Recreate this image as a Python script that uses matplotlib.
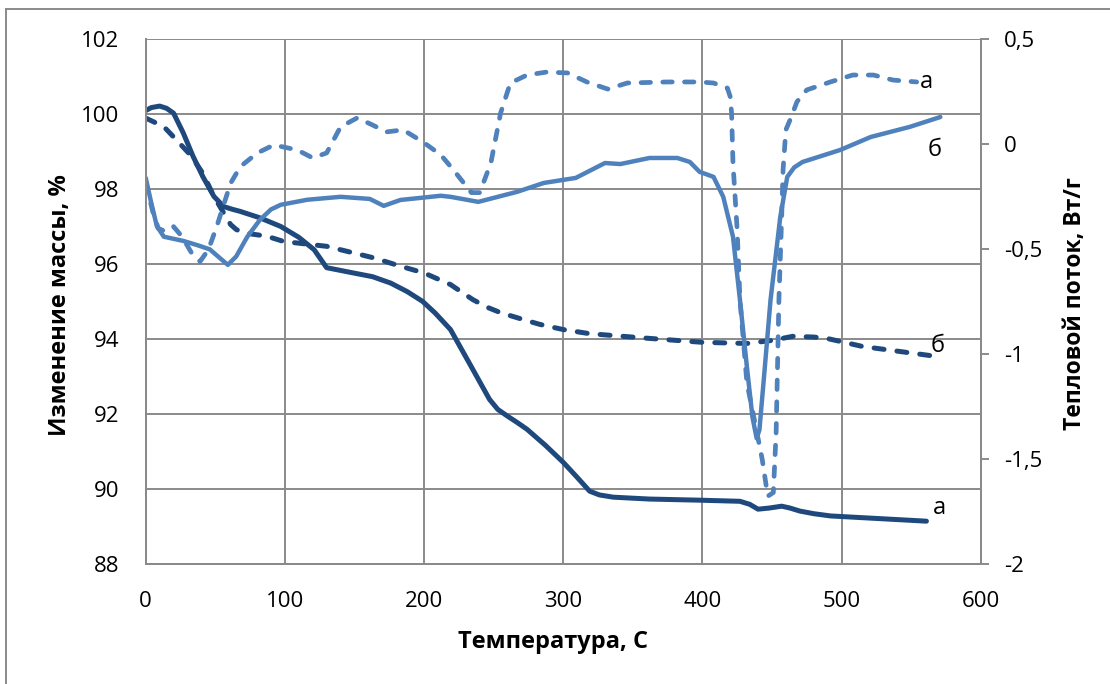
import matplotlib.pyplot as plt
from matplotlib.lines import Line2D

plt.rcParams['font.family'] = ['Open Sans', 'DejaVu Sans']

# масса, образец а (сплошная тёмная)
t_mass_a = [0, 4, 10, 15, 20, 27, 34, 41, 49, 56, 62, 68, 82, 97, 110, 121,
            130, 145, 163, 176, 188, 199, 208, 219, 235, 247, 253, 260, 267,
            274, 287, 300, 310, 319, 326, 336, 362, 398, 427, 434, 440, 448,
            457, 463, 470, 480, 492, 561]
mass_a = [100.1, 100.18, 100.22, 100.16, 100.03, 99.5, 98.88, 98.34, 97.81,
          97.54, 97.47, 97.41, 97.24, 97.01, 96.72, 96.39, 95.91, 95.8, 95.67,
          95.5, 95.27, 95.01, 94.7, 94.26, 93.2, 92.4, 92.13, 91.95, 91.78,
          91.6, 91.18, 90.72, 90.32, 89.95, 89.85, 89.79, 89.74, 89.71, 89.68,
          89.6, 89.47, 89.5, 89.55, 89.5, 89.42, 89.35, 89.29, 89.15]

# масса, образец б (штриховая тёмная)
t_mass_b = [0, 13, 22, 32, 41, 49, 56, 61, 65, 70, 87, 99, 130, 164, 183, 200,
            219, 235, 245, 255, 271, 283, 300, 319, 360, 400, 432, 450, 465,
            480, 490, 515, 567]
mass_b = [99.9, 99.67, 99.32, 98.92, 98.43, 97.81, 97.37, 97.06, 96.93, 96.84,
          96.75, 96.61, 96.48, 96.17, 95.95, 95.77, 95.46, 95.06, 94.86, 94.71,
          94.53, 94.4, 94.26, 94.15, 94.03, 93.92, 93.89, 93.97, 94.08, 94.06,
          94.02, 93.81, 93.55]

# тепловой поток, образец б (сплошная светлая)
t_heat_b = [0, 4, 8, 13, 20, 27, 37, 46, 53, 59, 65, 73, 82, 90, 97, 116, 140,
            161, 171, 183, 212, 219, 239, 267, 286, 309, 330, 341, 362, 382,
            391, 398, 408, 415, 422, 427, 432, 436, 439, 441, 444, 449, 456,
            461, 466, 472, 499, 521, 549, 571]
heat_b = [-0.16, -0.28, -0.39, -0.44, -0.45, -0.46, -0.48, -0.5, -0.54, -0.574,
          -0.534, -0.44, -0.36, -0.31, -0.288, -0.264, -0.25, -0.26, -0.293,
          -0.265, -0.245, -0.25, -0.274, -0.226, -0.184, -0.16, -0.089,
          -0.094, -0.065, -0.065, -0.084, -0.131, -0.155, -0.25, -0.44, -0.74,
          -1.06, -1.3, -1.4, -1.36, -1.13, -0.74, -0.345, -0.155, -0.11,
          -0.084, -0.027, 0.035, 0.083, 0.13]

# тепловой поток, образец а (штриховая светлая)
t_heat_a = [0, 5, 9, 14, 20, 26, 33, 39, 45, 51, 56, 61, 68, 80, 92, 109, 120,
            130, 140, 152, 163, 173, 185, 199, 212, 221, 234, 240, 248, 255,
            262, 274, 288, 303, 317, 332, 346, 375, 398, 408, 418, 420, 421,
            422, 425, 427, 432, 437, 443, 447, 451, 453, 454, 455, 457, 458,
            460, 463, 468, 475, 492, 508, 523, 537, 554]
heat_a = [-0.18, -0.32, -0.4, -0.415, -0.392, -0.439, -0.518, -0.558, -0.502,
          -0.392, -0.288, -0.185, -0.106, -0.042, -0.003, -0.027, -0.065,
          -0.041, 0.083, 0.126, 0.092, 0.059, 0.069, 0.012, -0.05, -0.121,
          -0.23, -0.23, -0.089, 0.149, 0.292, 0.33, 0.344, 0.34, 0.297, 0.263,
          0.292, 0.297, 0.297, 0.292, 0.268, 0.227, 0.148, -0.09, -0.407,
          -0.74, -1.136, -1.3, -1.5, -1.676, -1.658, -1.373, -1.06, -0.74,
          -0.344, -0.12, 0.069, 0.116, 0.203, 0.259, 0.297, 0.33, 0.33, 0.306,
          0.297]

dark = '#1f497d'
light = '#4f81bd'
grid_c = '#8a8a8a'
dash = (2.0, 2.6)
rnd = dict(dash_capstyle='round', solid_capstyle='round',
           solid_joinstyle='round', dash_joinstyle='round')

fig = plt.figure(figsize=(11.1, 6.84), dpi=100)
ax = fig.add_axes([0.1313, 0.175, 0.7522, 0.7675])
ax2 = ax.twinx()

ax.plot(t_mass_b, mass_b, color=dark, lw=3.6, ls=(0, dash), **rnd)
ax.plot(t_mass_a, mass_a, color=dark, lw=3.6, **rnd)
ax2.plot(t_heat_a, heat_a, color=light, lw=3.4, ls=(0, dash), **rnd)
ax2.plot(t_heat_b, heat_b, color=light, lw=3.2, **rnd)

ax.set_xlim(0, 600)
ax.set_ylim(88, 102)
ax2.set_ylim(-2, 0.5)
ax.set_xticks(range(0, 601, 100))
ax.set_yticks(range(88, 103, 2))
ax2.set_yticks([-2, -1.5, -1, -0.5, 0, 0.5])
ax2.set_yticklabels(['-2', '-1,5', '-1', '-0,5', '0', '0,5'])

ax.grid(True, color=grid_c, lw=1.4)
ax.set_axisbelow(True)
ax.tick_params(axis='both', length=0, labelsize=16, colors='black')
ax.tick_params(axis='y', pad=19)
ax.tick_params(axis='x', pad=19)
ax2.tick_params(axis='y', direction='out', length=6, width=1.4,
                color=grid_c, pad=11, labelsize=16)
for a in (ax, ax2):
    for s in a.spines.values():
        s.set_color(grid_c)
        s.set_linewidth(1.4)
    a.spines['top'].set_visible(False)

# подписи кривых
ax.text(561, 100.86, 'а', fontsize=17, ha='center', va='center')
ax.text(567, 99.05, 'б', fontsize=17, ha='center', va='center')
ax.text(569, 93.81, 'б', fontsize=17, ha='center', va='center')
ax.text(570, 89.5, 'а', fontsize=17, ha='center', va='center')

fig.text(60 / 1110, 1 - 305 / 684, 'Изменение массы, %', rotation=90,
         fontsize=17, fontweight='bold', ha='center', va='center')
fig.text(1075 / 1110, 1 - 304 / 684, 'Тепловой поток, Вт/г', rotation=90,
         fontsize=16.5, fontweight='bold', ha='center', va='center')
fig.text(553 / 1110, 1 - 642 / 684, 'Температура, С',
         fontsize=17, fontweight='bold', ha='center', va='center')

# рамка области диаграммы
fig.add_artist(Line2D([6 / 1110, 6 / 1110], [0, 1 - 9 / 684],
                      transform=fig.transFigure, color=grid_c, lw=1.4))
fig.add_artist(Line2D([6 / 1110, 1], [1 - 9 / 684, 1 - 9 / 684],
                      transform=fig.transFigure, color=grid_c, lw=1.4))

fig.savefig('out.png', dpi=100)
